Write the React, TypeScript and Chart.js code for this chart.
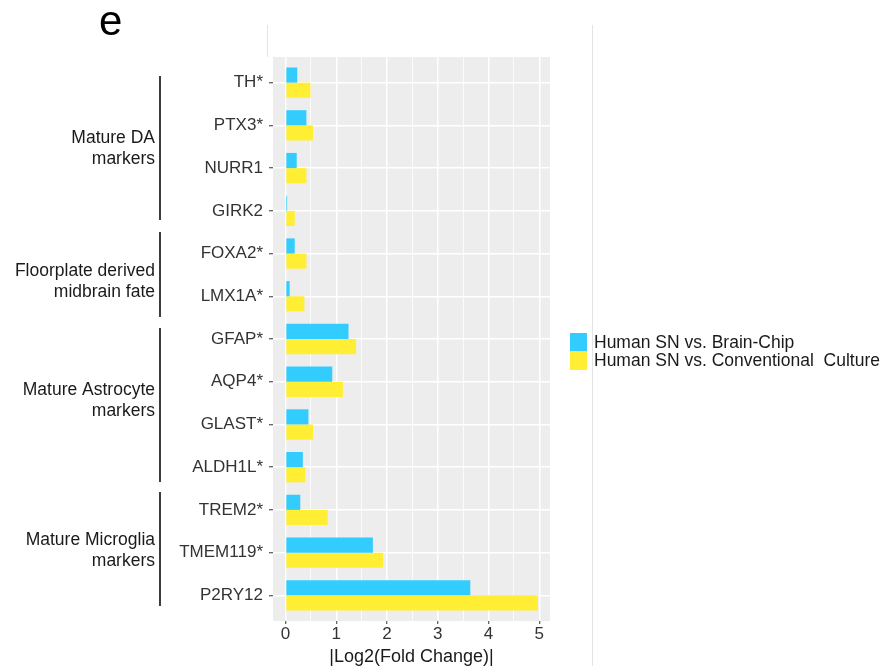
import React, { useEffect, useRef } from "react";
import { Chart, registerables } from "chart.js";

Chart.register(...registerables);

const genes = ["TH*", "PTX3*", "NURR1", "GIRK2", "FOXA2*", "LMX1A*", "GFAP*", "AQP4*", "GLAST*", "ALDH1L*", "TREM2*", "TMEM119*", "P2RY12"];
const brainChip = [0.23, 0.41, 0.22, 0.03, 0.18, 0.08, 1.24, 0.92, 0.45, 0.34, 0.29, 1.72, 3.64];
const conventional = [0.49, 0.54, 0.41, 0.18, 0.41, 0.37, 1.39, 1.13, 0.54, 0.39, 0.83, 1.92, 4.97];
const seriesLabels = ["Human SN vs. Brain-Chip", "Human SN vs. Conventional  Culture"];
const seriesColors = ["#33CCFF", "#FFEE33"];
const xTickValues = [0, 0.5, 1, 1.5, 2, 2.5, 3, 3.5, 4, 4.5, 5];
const groupNames = [["Mature DA", "markers"], ["Floorplate derived", "midbrain fate"], ["Mature Astrocyte", "markers"], ["Mature Microglia", "markers"]];
const groupStart = [-0.154, 3.496, 5.743, 9.581];
const groupEnd = [3.216, 5.486, 9.347, 12.25];
const groupLabelAt = [1.54, 4.655, 7.44, 10.95];

const FONT = "'Liberation Sans', Arial, Helvetica, sans-serif";

const decorPlugin = {
  id: "decor",
  beforeDraw(chart: any) {
    const { ctx, chartArea } = chart;
    ctx.save();
    ctx.fillStyle = "#EDEDED";
    ctx.fillRect(chartArea.left, chartArea.top, chartArea.right - chartArea.left, chartArea.bottom - chartArea.top);
    ctx.restore();
  },
  afterDraw(chart: any) {
    const { ctx } = chart;
    const y = chart.scales.y;
    ctx.save();
    // faint figure separators
    ctx.strokeStyle = "#E4E4E4";
    ctx.lineWidth = 1;
    ctx.beginPath();
    ctx.moveTo(592.5, 25);
    ctx.lineTo(592.5, 666);
    ctx.moveTo(267.5, 25);
    ctx.lineTo(267.5, chart.chartArea.top);
    ctx.stroke();

    // group brackets and labels
    ctx.strokeStyle = "#1a1a1a";
    ctx.lineWidth = 1.7;
    ctx.fillStyle = "#1a1a1a";
    ctx.font = `17.5px ${FONT}`;
    ctx.textAlign = "right";
    ctx.textBaseline = "middle";
    for (let g = 0; g < groupNames.length; g++) {
      const y0 = y.getPixelForValue(groupStart[g]);
      const y1 = y.getPixelForValue(groupEnd[g]);
      ctx.beginPath();
      ctx.moveTo(160, y0);
      ctx.lineTo(160, y1);
      ctx.stroke();
      const yc = y.getPixelForValue(groupLabelAt[g]);
      const lines = groupNames[g];
      const lh = 21;
      lines.forEach((t, k) => {
        ctx.fillText(t, 155, yc + (k - (lines.length - 1) / 2) * lh);
      });
    }

    // legend
    ctx.textAlign = "left";
    ctx.textBaseline = "middle";
    chart.data.datasets.forEach((ds: any, i: number) => {
      const top = 333 + i * 18.5;
      ctx.fillStyle = ds.backgroundColor;
      ctx.fillRect(570, top, 17, 18.5);
      ctx.fillStyle = "#1a1a1a";
      ctx.fillText(ds.label, 594, top + 10);
    });

    // panel letter
    ctx.font = `42px ${FONT}`;
    ctx.textBaseline = "alphabetic";
    ctx.fillStyle = "#000";
    ctx.fillText("e", 99, 35);
    ctx.restore();
  },
};

export default function App() {
  const ref = useRef<HTMLCanvasElement>(null);
  useEffect(() => {
    if (!ref.current) return;
    const chart = new Chart(ref.current, {
      type: "bar",
      data: {
        datasets: [
          {
            label: seriesLabels[0],
            data: genes.map((_, i) => ({ x: brainChip[i], y: i })),
            backgroundColor: seriesColors[0],
            borderWidth: 0,
          },
          {
            label: seriesLabels[1],
            data: genes.map((_, i) => ({ x: conventional[i], y: i })),
            backgroundColor: seriesColors[1],
            borderWidth: 0,
          },
        ],
      },
      options: {
        indexAxis: "y",
        responsive: false,
        animation: false,
        devicePixelRatio: 1,
        layout: { padding: { left: 0, right: 332, top: 57, bottom: 0 } },
        datasets: { bar: { categoryPercentage: 0.71, barPercentage: 1.0 } },
        plugins: { legend: { display: false }, tooltip: { enabled: false } },
        scales: {
          y: {
            type: "linear",
            reverse: true,
            offset: false,
            min: -0.6,
            max: 12.6,
            afterBuildTicks: (scale: any) => {
              scale.ticks = genes.map((_, i) => ({ value: i }));
            },
            afterFit: (scale: any) => {
              scale.width = 273;
            },
            ticks: {
              callback: (v: any) => genes[Math.round(Number(v))] ?? "",
              color: "#333333",
              font: { family: FONT, size: 17 },
              padding: 6,
              autoSkip: false,
            },
            grid: {
              offset: false,
              color: "#FFFFFF",
              lineWidth: 1.5,
              tickColor: "#333333",
              tickLength: 4,
              tickWidth: 1,
            },
            border: { display: false },
          },
          x: {
            type: "linear",
            min: -0.248,
            max: 5.21,
            afterBuildTicks: (scale: any) => {
              scale.ticks = xTickValues.map((v) => ({ value: v }));
            },
            afterFit: (scale: any) => {
              scale.height = 45;
            },
            ticks: {
              callback: (v: any) => (Number.isInteger(Number(v)) ? String(v) : ""),
              color: "#333333",
              font: { family: FONT, size: 17 },
              padding: 0,
              autoSkip: false,
              maxRotation: 0,
            },
            grid: {
              color: "#FFFFFF",
              lineWidth: (ctx: any) => (Number.isInteger(ctx.tick?.value) ? 1.5 : 0.75),
              tickColor: (ctx: any) => (Number.isInteger(ctx.tick?.value) ? "#333333" : "rgba(0,0,0,0)"),
              tickLength: 3,
              tickWidth: 1,
            },
            border: { display: false },
            title: {
              display: true,
              text: "|Log2(Fold Change)|",
              color: "#1a1a1a",
              font: { family: FONT, size: 18 },
              padding: { top: 0, bottom: -2 },
            },
          },
        },
      },
      plugins: [decorPlugin],
    } as any);
    return () => chart.destroy();
  }, []);
  return (
    <div style={{ position: "absolute", left: 0, top: 0, width: 882, height: 666, background: "#fff" }}>
      <canvas ref={ref} width={882} height={666} style={{ width: 882, height: 666, display: "block" }} />
    </div>
  );
}
